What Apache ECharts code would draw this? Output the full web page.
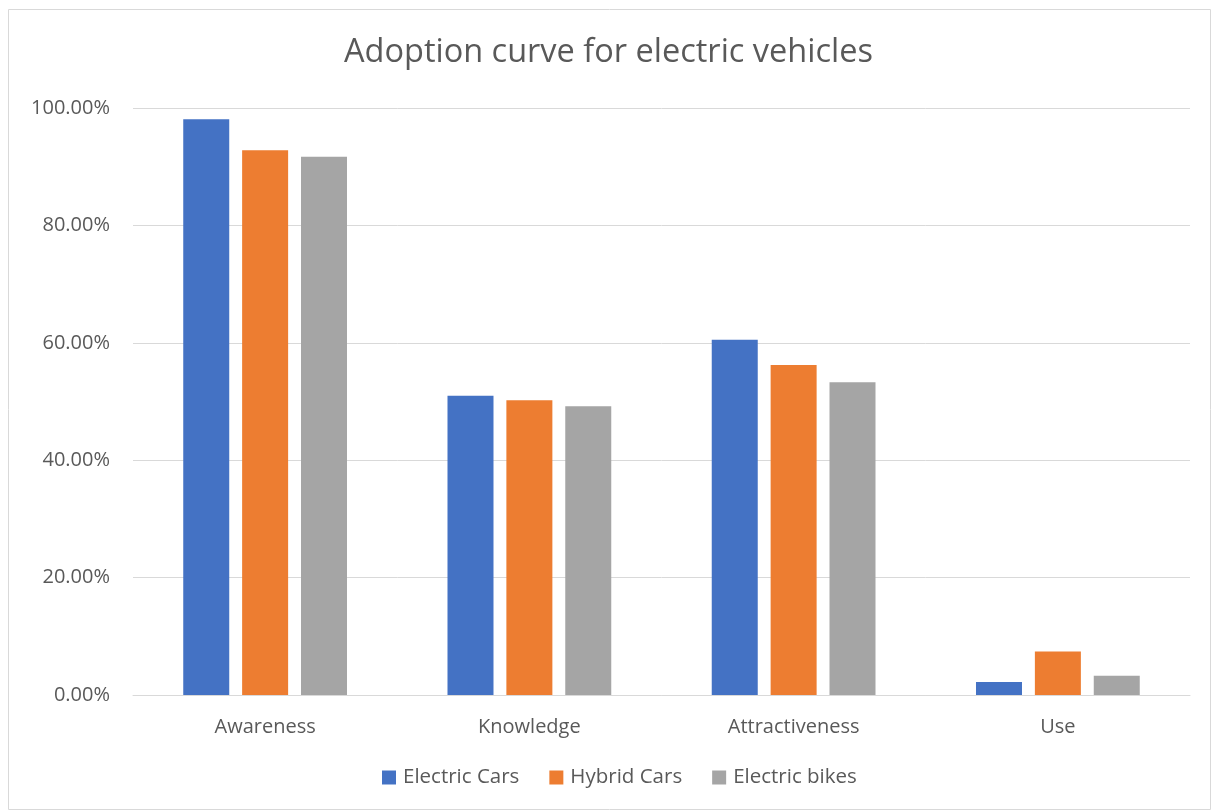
<!DOCTYPE html>
<html>
<head>
<meta charset="utf-8">
<script src="https://cdn.jsdelivr.net/npm/echarts@6/dist/echarts.min.js"></script>
<style>
  html, body { margin: 0; padding: 0; background: #fff; }
  #chart { width: 1217px; height: 812px; }
</style>
</head>
<body>
<div id="chart"></div>
<script>
// 数据
const stages = ['Awareness', 'Knowledge', 'Attractiveness', 'Use']
const electricCars = [98.1, 51.0, 60.5, 2.2]
const hybridCars = [92.8, 50.2, 56.2, 7.4]
const electricBikes = [91.7, 49.2, 53.3, 3.3]
const seriesNames = ['Electric Cars', 'Hybrid Cars', 'Electric bikes']
const colors = ['#4472c4', '#ed7d31', '#a5a5a5']

const chart = echarts.init(document.getElementById('chart'))
const font = '"Open Sans", "Noto Sans", sans-serif'

const makeBar = (name, data, i) => ({
  name,
  type: 'bar',
  data,
  barWidth: 46,
  barGap: '28%',
  itemStyle: { color: colors[i] }
})

const option = {
  animation: false,
  textStyle: { fontFamily: font },
  title: {
    text: 'Adoption curve for electric vehicles',
    left: 'center',
    top: 31,
    textStyle: { color: '#595959', fontSize: 32.5, fontWeight: 'normal', fontFamily: font }
  },
  legend: {
    data: seriesNames,
    bottom: 19,
    left: 377,
    itemWidth: 14,
    itemHeight: 14,
    itemGap: 30,
    icon: 'rect',
    textStyle: { color: '#595959', fontSize: 20.5, fontFamily: font, padding: [0, 0, 0, 2] }
  },
  graphic: [{
    type: 'rect',
    shape: { x: 8.5, y: 9.5, width: 1202, height: 800 },
    style: { fill: 'none', stroke: '#d9d9d9', lineWidth: 1 },
    silent: true
  }],
  grid: { left: 133, right: 27, top: 108, bottom: 117 },
  xAxis: {
    type: 'category',
    data: stages,
    axisLine: { lineStyle: { color: '#d9d9d9', width: 1 } },
    axisTick: { show: false },
    axisLabel: { color: '#595959', fontSize: 20, margin: 22, fontFamily: font }
  },
  yAxis: {
    type: 'value',
    min: 0,
    max: 100,
    interval: 20,
    axisLine: { show: false },
    axisTick: { show: false },
    splitLine: { lineStyle: { color: '#d9d9d9', width: 1 } },
    axisLabel: {
      color: '#595959',
      fontSize: 20,
      margin: 23,
      fontFamily: font,
      formatter: v => v.toFixed(2) + '%'
    }
  },
  series: [
    makeBar(seriesNames[0], electricCars, 0),
    makeBar(seriesNames[1], hybridCars, 1),
    makeBar(seriesNames[2], electricBikes, 2)
  ]
}

chart.setOption(option)
</script>
</body>
</html>
